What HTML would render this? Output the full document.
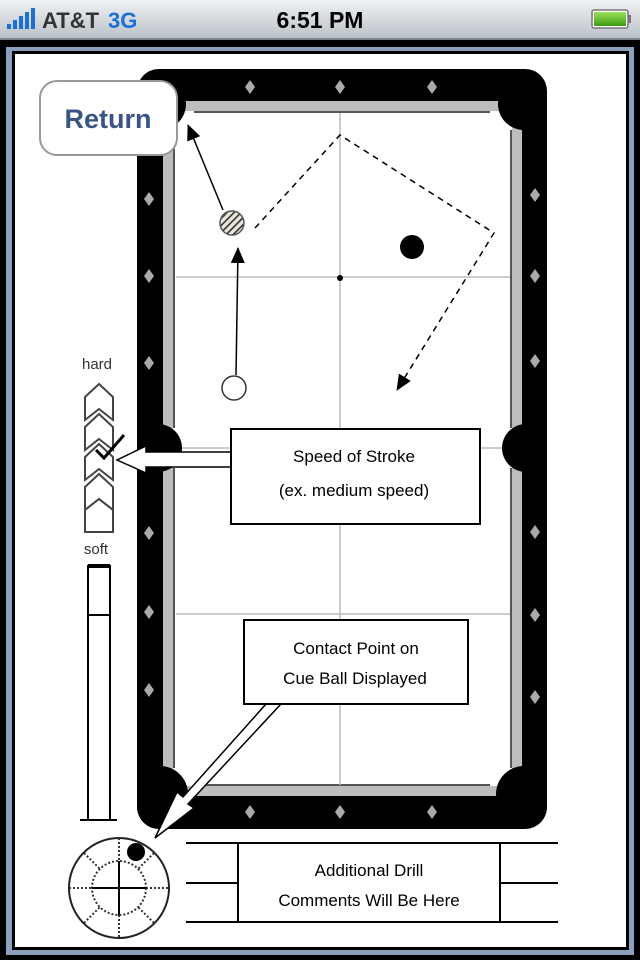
<!DOCTYPE html>
<html><head><meta charset="utf-8"><style>
html,body{margin:0;padding:0;width:640px;height:960px;overflow:hidden;background:#000}
svg{display:block}
text{font-family:"Liberation Sans","DejaVu Sans",sans-serif}
</style></head><body>
<svg width="640" height="960" viewBox="0 0 640 960" xmlns="http://www.w3.org/2000/svg">
<defs>
<linearGradient id="sb" x1="0" y1="0" x2="0" y2="1"><stop offset="0" stop-color="#f0f2f4"/><stop offset="1" stop-color="#b9bfc6"/></linearGradient>
<linearGradient id="bat" x1="0" y1="0" x2="0" y2="1"><stop offset="0" stop-color="#9be25a"/><stop offset="1" stop-color="#3c9a14"/></linearGradient>
<pattern id="hatch" width="5" height="5" patternUnits="userSpaceOnUse" patternTransform="rotate(-45)"><rect width="5" height="5" fill="#e8e6da"/><rect width="5" height="1.6" fill="#333"/></pattern>
<marker id="ah" markerWidth="16" markerHeight="14" refX="15" refY="7" orient="auto" markerUnits="userSpaceOnUse" viewBox="0 0 16 14"><path d="M0,0 L16,7 L0,14 z" fill="#000"/></marker>
<clipPath id="tc"><rect x="137" y="69" width="410" height="760" rx="22"/></clipPath>
</defs>
<!-- status bar -->
<rect x="0" y="0" width="640" height="40" fill="url(#sb)"/>
<rect x="0" y="38" width="640" height="2" fill="#7d848c"/>
<g fill="#1a6fd8"><rect x="7" y="24" width="4" height="5"/><rect x="13" y="20" width="4" height="9"/><rect x="19" y="16" width="4" height="13"/><rect x="25" y="12" width="4" height="17"/><rect x="31" y="8" width="4" height="21"/></g>
<text x="42" y="28" font-size="22" font-weight="bold" fill="#333">AT&amp;T</text>
<text x="108" y="28" font-size="22" font-weight="bold" fill="#1a6fd8">3G</text>
<text x="320" y="28" font-size="23" font-weight="bold" fill="#000" text-anchor="middle">6:51 PM</text>
<rect x="592" y="10" width="36" height="18" rx="2" fill="#fff" stroke="#777" stroke-width="1.5"/>
<rect x="594" y="12" width="32" height="14" fill="url(#bat)"/>
<rect x="628" y="15" width="3" height="8" fill="#777"/>
<!-- frame -->
<rect x="6" y="47" width="628" height="908" fill="#8aa0bd"/>
<rect x="12" y="51" width="617" height="899" fill="#000"/>
<rect x="15" y="54" width="611" height="893" fill="#fff"/>
<!-- table -->
<rect x="137" y="69" width="410" height="760" rx="22" fill="#000"/>
<rect x="163" y="101" width="359" height="695" fill="#bdbdbd"/>
<rect x="173" y="111" width="339" height="675" fill="#fff"/>
<g stroke="#555" stroke-width="2" fill="none">
<line x1="194" y1="112" x2="490" y2="112"/><line x1="174" y1="130" x2="174" y2="428"/><line x1="174" y1="468" x2="174" y2="768"/>
<line x1="511" y1="130" x2="511" y2="428"/><line x1="511" y1="468" x2="511" y2="768"/><line x1="194" y1="785" x2="490" y2="785"/>
</g>
<!-- grid -->
<g stroke="#bbb" stroke-width="1.5">
<line x1="340" y1="113" x2="340" y2="785"/>
<line x1="176" y1="277" x2="510" y2="277"/>
<line x1="176" y1="448" x2="510" y2="448"/>
<line x1="176" y1="614" x2="510" y2="614"/>
</g>
<!-- pockets -->
<g fill="#000" clip-path="url(#tc)">
<circle cx="160" cy="104" r="26"/><circle cx="524" cy="104" r="26"/>
<circle cx="160" cy="794" r="28"/><circle cx="524" cy="794" r="28"/>
<circle cx="158" cy="448" r="24"/><circle cx="526" cy="448" r="24"/>
</g>
<circle cx="340" cy="278" r="3" fill="#000"/>
<!-- diamonds -->
<g fill="#aaa">
<path d="M0,-7 L5,0 L0,7 L-5,0z" transform="translate(250,87)"/>
<path d="M0,-7 L5,0 L0,7 L-5,0z" transform="translate(340,87)"/>
<path d="M0,-7 L5,0 L0,7 L-5,0z" transform="translate(432,87)"/>
<path d="M0,-7 L5,0 L0,7 L-5,0z" transform="translate(250,812)"/>
<path d="M0,-7 L5,0 L0,7 L-5,0z" transform="translate(340,812)"/>
<path d="M0,-7 L5,0 L0,7 L-5,0z" transform="translate(432,812)"/>
<path d="M0,-7 L5,0 L0,7 L-5,0z" transform="translate(149,199)"/>
<path d="M0,-7 L5,0 L0,7 L-5,0z" transform="translate(149,276)"/>
<path d="M0,-7 L5,0 L0,7 L-5,0z" transform="translate(149,363)"/>
<path d="M0,-7 L5,0 L0,7 L-5,0z" transform="translate(149,533)"/>
<path d="M0,-7 L5,0 L0,7 L-5,0z" transform="translate(149,612)"/>
<path d="M0,-7 L5,0 L0,7 L-5,0z" transform="translate(149,690)"/>
<path d="M0,-7 L5,0 L0,7 L-5,0z" transform="translate(535,195)"/>
<path d="M0,-7 L5,0 L0,7 L-5,0z" transform="translate(535,276)"/>
<path d="M0,-7 L5,0 L0,7 L-5,0z" transform="translate(535,361)"/>
<path d="M0,-7 L5,0 L0,7 L-5,0z" transform="translate(535,532)"/>
<path d="M0,-7 L5,0 L0,7 L-5,0z" transform="translate(535,615)"/>
<path d="M0,-7 L5,0 L0,7 L-5,0z" transform="translate(535,697)"/>
</g>
<!-- balls and paths -->
<line x1="236" y1="375" x2="238" y2="248" stroke="#000" stroke-width="1.5" marker-end="url(#ah)"/>
<line x1="223" y1="210" x2="188" y2="125" stroke="#000" stroke-width="1.5" marker-end="url(#ah)"/>
<polyline points="255,228 340,135 494,233 397,390" fill="none" stroke="#000" stroke-width="1.5" stroke-dasharray="6,5" marker-end="url(#ah)"/>
<circle cx="232" cy="223" r="12" fill="url(#hatch)" stroke="#555" stroke-width="1.5"/>
<circle cx="412" cy="247" r="12" fill="#000"/>
<circle cx="234" cy="388" r="12" fill="#fff" stroke="#333" stroke-width="1.5"/>
<!-- return button -->
<rect x="40" y="81" width="137" height="74" rx="17" fill="#fff" stroke="#999" stroke-width="2"/>
<text x="108" y="128" font-size="27" font-weight="bold" fill="#3a5487" text-anchor="middle">Return</text>
<!-- speed meter -->
<text x="97" y="369" font-size="15" fill="#333" text-anchor="middle">hard</text>
<g fill="#fff" stroke="#444" stroke-width="2">
<path d="M85,397 L99,384 L113,397 L113,420 L99,409 L85,420z"/>
<path d="M85,427 L99,414 L113,427 L113,450 L99,439 L85,450z"/>
<path d="M85,457 L99,444 L113,457 L113,480 L99,469 L85,480z"/>
<path d="M85,487 L99,474 L113,487 L113,510 L99,499 L85,510z"/>
<path d="M85,510 L99,499 L113,510 L113,532 L85,532z"/>
</g>
<path d="M96,450 L104,458 L124,435" fill="none" stroke="#000" stroke-width="3"/>
<text x="96" y="554" font-size="15" fill="#333" text-anchor="middle">soft</text>
<rect x="88" y="566" width="22" height="254" fill="#fff" stroke="#000" stroke-width="2"/>
<line x1="88" y1="566" x2="110" y2="566" stroke="#000" stroke-width="4"/>
<line x1="88" y1="615" x2="110" y2="615" stroke="#000" stroke-width="2"/>
<line x1="80" y1="820" x2="117" y2="820" stroke="#000" stroke-width="2"/>
<!-- speed box + arrow -->
<path d="M231,452 L146,452 L146,446 L117,460 L146,473 L146,467 L231,467z" fill="#fff" stroke="#000" stroke-width="1.5"/>
<rect x="231" y="429" width="249" height="95" fill="#fff" stroke="#000" stroke-width="2"/>
<text x="354" y="462" font-size="17" fill="#000" text-anchor="middle">Speed of Stroke</text>
<text x="354" y="496" font-size="17" fill="#000" text-anchor="middle">(ex. medium speed)</text>
<!-- contact box + arrow -->
<path d="M266,704 L183,797 L177,792 L155,838 L194,808 L188,804 L281,704z" fill="#fff" stroke="#000" stroke-width="1.5"/>
<rect x="244" y="620" width="224" height="84" fill="#fff" stroke="#000" stroke-width="2"/>
<text x="356" y="654" font-size="17" fill="#000" text-anchor="middle">Contact Point on</text>
<text x="355" y="684" font-size="17" fill="#000" text-anchor="middle">Cue Ball Displayed</text>
<!-- cue ball diagram -->
<circle cx="119" cy="888" r="50" fill="#fff" stroke="#222" stroke-width="2"/>
<circle cx="119" cy="888" r="27" fill="none" stroke="#333" stroke-width="2" stroke-dasharray="2,2"/>
<g stroke="#333" stroke-width="2" stroke-dasharray="2,2">
<line x1="119" y1="838" x2="119" y2="861"/><line x1="119" y1="915" x2="119" y2="938"/>
<line x1="69" y1="888" x2="92" y2="888"/><line x1="146" y1="888" x2="169" y2="888"/>
<line x1="84" y1="853" x2="100" y2="869"/><line x1="154" y1="853" x2="138" y2="869"/>
<line x1="84" y1="923" x2="100" y2="907"/><line x1="154" y1="923" x2="138" y2="907"/>
</g>
<line x1="119" y1="861" x2="119" y2="915" stroke="#000" stroke-width="2"/>
<line x1="92" y1="888" x2="146" y2="888" stroke="#000" stroke-width="2"/>
<circle cx="136" cy="852" r="9" fill="#000"/>
<!-- comments -->
<g stroke="#000" stroke-width="2">
<line x1="186" y1="843" x2="558" y2="843"/><line x1="186" y1="883" x2="238" y2="883"/><line x1="500" y1="883" x2="558" y2="883"/>
<line x1="186" y1="922" x2="558" y2="922"/><line x1="238" y1="843" x2="238" y2="922"/><line x1="500" y1="843" x2="500" y2="922"/>
</g>
<text x="369" y="876" font-size="17" fill="#000" text-anchor="middle">Additional Drill</text>
<text x="369" y="906" font-size="17" fill="#000" text-anchor="middle">Comments Will Be Here</text>
</svg>
</body></html>
